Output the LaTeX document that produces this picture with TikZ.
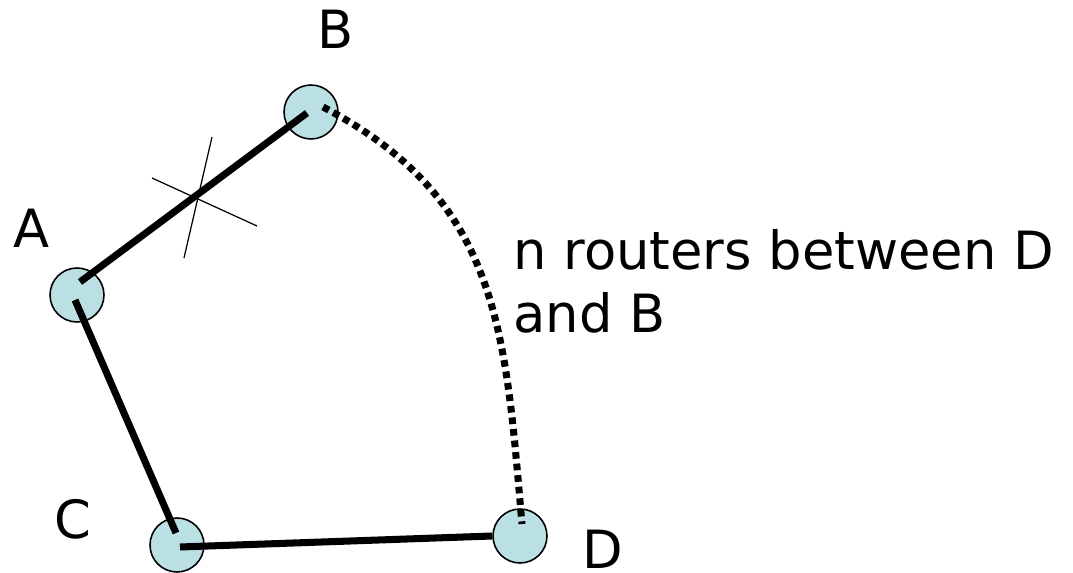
\documentclass[tikz,border=0pt]{standalone}
\usepackage{fontspec}
\setmainfont{DejaVu Sans}
\definecolor{routerfill}{RGB}{187,224,227}
\usepackage{tikz}
\usetikzlibrary{positioning}

\tikzset{
  router/.style={draw=black, fill=routerfill, circle, line width=0.9pt, minimum size=1.08cm, inner sep=0pt},
  link/.style={line width=4pt, black},
  dotlink/.style={line width=4pt, black, dash pattern=on 3.8pt off 2.8pt},
  lbl/.style={font=\fontsize{30}{36}\selectfont, inner sep=0pt}
}

\begin{document}
\begin{tikzpicture}[x=0.02cm, y=-0.02cm]
  \useasboundingbox (0,0) rectangle (1073,573);

  %% Routers
  \node[router] (A) at (77,295) {};
  \node[router] (B) at (311,112) {};
  \node[router] (C) at (177,545) {};
  \node[router] (D) at (520,536) {};

  %% Router labels
  \node[lbl] (labA) at (32,228) {A};
  \node[lbl] (labB) at (336,29) {B};
  \node[lbl] (labC) at (73,519) {C};
  \node[lbl] (labD) at (603,549) {D};

  %% Links
  \draw[link] ([shift={(3,-13)}]A.center) -- ([shift={(-4,1)}]B.center);
  \draw[link] ([shift={(-2,5)}]A.center) -- ([shift={(-1,-12)}]C.center);
  \draw[link] ([shift={(3,2)}]C.center) -- (D.west);

  %% Broken link A-B
  \coordinate (x1) at (152,178);
  \coordinate (x2) at (257,226);
  \coordinate (x3) at (212,137);
  \coordinate (x4) at (184,258);
  \draw[line width=0.7pt] (x1) -- (x2);
  \draw[line width=0.7pt] (x3) -- (x4);

  %% Path through n routers
  \draw[dotlink] ([shift={(12,-5)}]B.center) .. controls (500,200) and (505,330) .. ([shift={(2,-12)}]D.center);
  \node[lbl, anchor=base west, align=left] (note) at (513,333) {n routers between D\\and B};
\end{tikzpicture}
\end{document}
